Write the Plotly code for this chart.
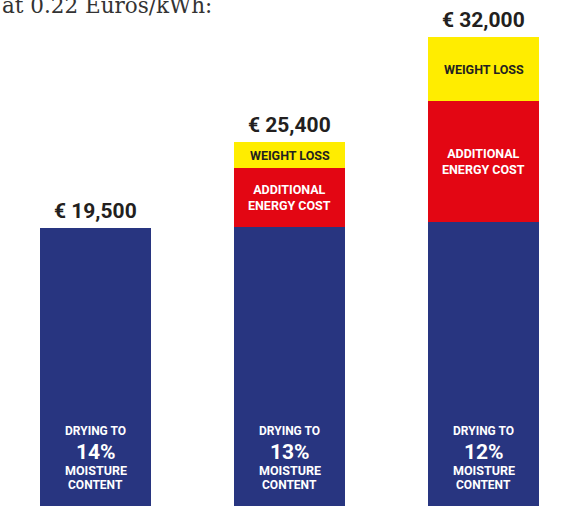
import plotly.graph_objects as go

categories = ["14%", "13%", "12%"]
base_cost = [19500, 19600, 19900]
energy_cost = [0, 3800, 7900]
weight_loss = [0, 1700, 4200]
total_labels = ["€ 19,500", "€ 25,400", "€ 32,000"]

BLUE = "#283580"
RED = "#E30613"
YELLOW = "#FFED00"
COND = "Roboto, Arial, sans-serif"

x = list(range(len(categories)))
fig = go.Figure()
fig.add_bar(x=x, y=base_cost, marker_color=BLUE, width=0.572, marker_line_width=0, hoverinfo="skip")
fig.add_bar(x=x, y=energy_cost, marker_color=RED, width=0.572, marker_line_width=0, hoverinfo="skip")
fig.add_bar(x=x, y=weight_loss, marker_color=YELLOW, width=0.572, marker_line_width=0, hoverinfo="skip")

ann = []
for i in x:
    total = base_cost[i] + energy_cost[i] + weight_loss[i]
    ann.append(dict(x=i, y=total, text=total_labels[i], showarrow=False, yanchor="bottom", yshift=3,
                    font=dict(family=COND, size=21, color="#231F20", weight="bold")))
    if energy_cost[i] > 0:
        ann.append(dict(x=i, y=base_cost[i] + energy_cost[i] / 2, text="ADDITIONAL<br>ENERGY COST",
                        showarrow=False, font=dict(family=COND, size=12.5, color="white", weight="bold")))
    if weight_loss[i] > 0:
        ann.append(dict(x=i, y=base_cost[i] + energy_cost[i] + weight_loss[i] / 2, text="WEIGHT LOSS",
                        showarrow=False, font=dict(family=COND, size=12.5, color="#231F20", weight="bold")))
    for txt, pix, size in [("DRYING TO", 431, 12), (categories[i], 452, 21), ("MOISTURE", 470, 12.5), ("CONTENT", 485, 12)]:
        ann.append(dict(x=i, xref="x", yref="paper", y=1 - pix / 506, text=txt, showarrow=False,
                        yanchor="middle", font=dict(family=COND, size=size, color="white", weight="bold")))

ann.append(dict(x=0, y=1, xref="paper", yref="paper", xanchor="left", yanchor="bottom", yshift=-20, xshift=0,
                text="at 0.22 Euros/kWh:", showarrow=False,
                font=dict(family="DejaVu Serif, serif", size=21.5, color="#333333")))

fig.update_layout(
    barmode="stack", width=585, height=506, margin=dict(l=0, r=0, t=0, b=0),
    paper_bgcolor="white", plot_bgcolor="white", showlegend=False, bargap=0,
    xaxis=dict(range=[-0.4923, 2.5232], visible=False),
    yaxis=dict(range=[1309, 34422], visible=False),
    annotations=ann,
)
fig.write_html("out.html", config={"displayModeBar": False},
               post_script="document.body.style.margin='0';")
